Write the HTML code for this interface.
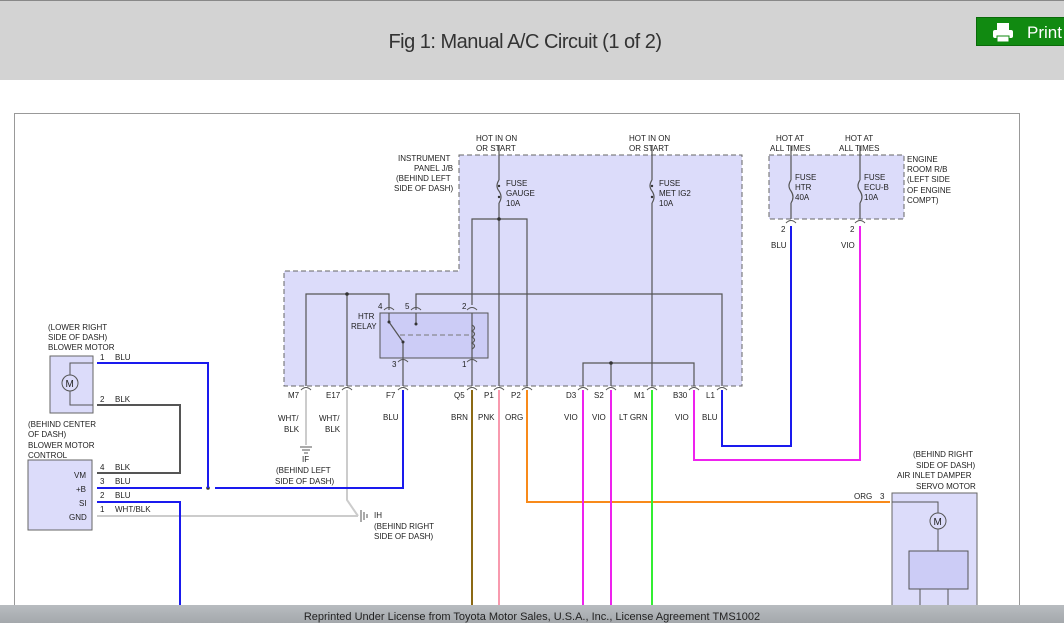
<!DOCTYPE html>
<html><head><meta charset="utf-8"><style>
html,body{margin:0;padding:0;width:1064px;height:623px;overflow:hidden;background:#fff;font-family:"Liberation Sans",sans-serif}
#hdr{position:absolute;left:0;top:0;width:1064px;height:80px;background:#d3d3d3;border-top:1px solid #888;box-sizing:border-box}
#title{position:absolute;left:0;width:1050px;top:30px;text-align:center;font-size:20px;color:#333;letter-spacing:-0.5px}
#print{position:absolute;left:976px;top:16px;width:100px;height:29px;background:#118a11;border:1px solid #0a6a0a;color:#fff;font-size:17px;line-height:29px;padding-left:50px;box-sizing:border-box}
#ftr{position:absolute;left:0;top:605px;width:1064px;height:18px;background:linear-gradient(#b8bcc0,#a4a8ac);font-size:11px;color:#222;text-align:center;line-height:24px}
svg{position:absolute;left:0;top:0}
text{font-family:"Liberation Sans",sans-serif;font-size:8px;fill:#222}
</style></head><body>
<div id="hdr"><div id="title">Fig 1: Manual A/C Circuit (1 of 2)</div>
<div id="print"><svg width="24" height="22" style="left:14px;top:4px"><rect x="6" y="1" width="12" height="7" fill="#fff"/><rect x="2" y="8" width="20" height="8" rx="2" fill="#fff"/><rect x="6" y="14" width="12" height="6" fill="#fff" stroke="#118a11"/></svg>Print</div></div>
<svg width="1064" height="623">
<rect x="14.5" y="113.5" width="1005" height="520" fill="#fff" stroke="#999"/>
<!-- J/B -->
<polygon points="459,155 742,155 742,386 284,386 284,271 459,271" fill="#dcdcfa" stroke="#666" stroke-dasharray="5,3"/>
<rect x="769" y="155" width="135" height="64" fill="#dcdcfa" stroke="#666" stroke-dasharray="5,3"/>
<rect x="380" y="313" width="108" height="45" fill="#ccccf6" stroke="#555"/>
<g stroke="#555" fill="none" stroke-width="1.2">
<path d="M499,146V180M499,203V386M652,146V180M652,203V386"/>
<path d="M499,180q-4,6 0,11q4,6 0,12M652,180q-4,6 0,11q4,6 0,12"/>
<path d="M472,305V219H527V386M306,386V294H389V310M347,294V386M416,310V294H722V386"/>
<path d="M389,313V322L403,342V386M416,313V324M472,313V386M583,386V363H694V386M611,363V386"/>
<path d="M472,325q5,3 0,6q5,3 0,6q5,3 0,6q5,3 0,6" />
<path d="M791,146V180M791,203V219M860,146V180M860,203V219M791,180q-4,6 0,11q4,6 0,12M860,180q-4,6 0,11q4,6 0,12"/>
</g>
<path d="M400,335H470" stroke="#777" stroke-dasharray="5,3"/>
<g fill="#333"><circle cx="499" cy="219" r="1.8"/><circle cx="347" cy="294" r="1.8"/><circle cx="611" cy="363" r="1.8"/><circle cx="389" cy="322" r="1.5"/><circle cx="416" cy="324" r="1.5"/><circle cx="403" cy="342" r="1.5"/><circle cx="208" cy="488" r="1.8"/><circle cx="499" cy="186" r="1.2"/><circle cx="499" cy="197" r="1.2"/><circle cx="652" cy="186" r="1.2"/><circle cx="652" cy="197" r="1.2"/></g>
<!-- connector marks -->
<g stroke="#555" fill="none"><path d="M301,390q5,-5 10,0M342,390q5,-5 10,0M398,390q5,-5 10,0M467,390q5,-5 10,0M494,390q5,-5 10,0M522,390q5,-5 10,0M578,390q5,-5 10,0M606,390q5,-5 10,0M647,390q5,-5 10,0M689,390q5,-5 10,0M717,390q5,-5 10,0M786,223q5,-5 10,0M855,223q5,-5 10,0M384,310q5,-5 10,0M411,310q5,-5 10,0M467,310q5,-5 10,0M398,362q5,-5 10,0M467,362q5,-5 10,0"/></g>
<!-- wires -->
<g fill="none" stroke-width="2">
<path d="M306,390V445" stroke="#ccc"/>
<path d="M347,390V500L358,516" stroke="#ccc"/>
<path d="M97,516H358" stroke="#ccc"/>
<path d="M403,390V488H215M202,488H97" stroke="#1a1aee"/>
<path d="M472,390V605" stroke="#8b6914"/>
<path d="M499,390V605" stroke="#f89aae"/>
<path d="M527,390V502H890" stroke="#f88a1a"/>
<path d="M583,390V605M611,390V605" stroke="#ee22ee"/>
<path d="M652,390V605" stroke="#33ee33"/>
<path d="M694,390V460H860V226" stroke="#ee22ee"/>
<path d="M722,390V446H791V226" stroke="#1a1aee"/>
<path d="M97,363H208V488" stroke="#1a1aee"/>
<path d="M97,502H180V605" stroke="#1a1aee"/>
<path d="M97,405H180V473H97" stroke="#555"/>
</g>
<!-- grounds -->
<g stroke="#555"><path d="M300,447H312M302,450H310M304,453H308"/><path d="M361,510V522M364,512V520M367,514V518"/></g>
<!-- blower motor -->
<rect x="50" y="356" width="43" height="57" fill="#dcdcfa" stroke="#666"/>
<circle cx="70" cy="383" r="8" fill="none" stroke="#555"/><text x="65.5" y="387" style="font-size:10px">M</text>
<path d="M70,375V363H93M70,391V405H93" stroke="#555" fill="none"/>
<rect x="28" y="460" width="64" height="70" fill="#dcdcfa" stroke="#666"/>
<!-- servo -->
<rect x="892" y="493" width="85" height="120" fill="#dcdcfa" stroke="#666"/>
<circle cx="938" cy="521" r="8" fill="none" stroke="#555"/><text x="933.5" y="525" style="font-size:10px">M</text>
<path d="M892,502H938V513M938,529V551M920,589V605M948,589V605" stroke="#555" fill="none"/>
<rect x="909" y="551" width="59" height="38" fill="#ccccf6" stroke="#555"/>
<!-- labels -->
<text x="476" y="141">HOT IN ON</text><text x="476" y="151">OR START</text>
<text x="629" y="141">HOT IN ON</text><text x="629" y="151">OR START</text>
<text x="776" y="141">HOT AT</text><text x="770" y="151">ALL TIMES</text>
<text x="845" y="141">HOT AT</text><text x="839" y="151">ALL TIMES</text>
<text x="398" y="161">INSTRUMENT</text><text x="414" y="171">PANEL J/B</text><text x="396" y="181">(BEHIND LEFT</text><text x="394" y="191">SIDE OF DASH)</text>
<text x="506" y="186">FUSE</text><text x="506" y="196">GAUGE</text><text x="506" y="206">10A</text>
<text x="659" y="186">FUSE</text><text x="659" y="196">MET IG2</text><text x="659" y="206">10A</text>
<text x="795" y="180">FUSE</text><text x="795" y="190">HTR</text><text x="795" y="200">40A</text>
<text x="864" y="180">FUSE</text><text x="864" y="190">ECU-B</text><text x="864" y="200">10A</text>
<text x="907" y="162">ENGINE</text><text x="907" y="172">ROOM R/B</text><text x="907" y="182">(LEFT SIDE</text><text x="907" y="193">OF ENGINE</text><text x="907" y="203">COMPT)</text>
<text x="781" y="232">2</text><text x="850" y="232">2</text><text x="771" y="248">BLU</text><text x="841" y="248">VIO</text>
<text x="378" y="309">4</text><text x="405" y="309">5</text><text x="462" y="309">2</text><text x="392" y="367">3</text><text x="462" y="367">1</text>
<text x="358" y="319">HTR</text><text x="351" y="329">RELAY</text>
<text x="288" y="398">M7</text><text x="326" y="398">E17</text><text x="386" y="398">F7</text><text x="454" y="398">Q5</text><text x="484" y="398">P1</text><text x="511" y="398">P2</text><text x="566" y="398">D3</text><text x="594" y="398">S2</text><text x="634" y="398">M1</text><text x="673" y="398">B30</text><text x="706" y="398">L1</text>
<text x="278" y="421">WHT/</text><text x="284" y="432">BLK</text><text x="319" y="421">WHT/</text><text x="325" y="432">BLK</text><text x="383" y="420">BLU</text>
<text x="451" y="420">BRN</text><text x="478" y="420">PNK</text><text x="505" y="420">ORG</text><text x="564" y="420">VIO</text><text x="592" y="420">VIO</text><text x="619" y="420">LT GRN</text><text x="675" y="420">VIO</text><text x="702" y="420">BLU</text>
<text x="302" y="462">IF</text><text x="276" y="473">(BEHIND LEFT</text><text x="275" y="484">SIDE OF DASH)</text>
<text x="374" y="518">IH</text><text x="374" y="529">(BEHIND RIGHT</text><text x="374" y="539">SIDE OF DASH)</text>
<text x="48" y="330">(LOWER RIGHT</text><text x="48" y="340">SIDE OF DASH)</text><text x="48" y="350">BLOWER MOTOR</text>
<text x="100" y="360">1</text><text x="115" y="360">BLU</text><text x="100" y="402">2</text><text x="115" y="402">BLK</text>
<text x="28" y="427">(BEHIND CENTER</text><text x="28" y="437">OF DASH)</text><text x="28" y="448">BLOWER MOTOR</text><text x="28" y="458">CONTROL</text>
<text x="74" y="478">VM</text><text x="76" y="492">+B</text><text x="79" y="506">SI</text><text x="69" y="520">GND</text>
<text x="100" y="470">4</text><text x="115" y="470">BLK</text><text x="100" y="484">3</text><text x="115" y="484">BLU</text><text x="100" y="498">2</text><text x="115" y="498">BLU</text><text x="100" y="512">1</text><text x="115" y="512">WHT/BLK</text>
<text x="913" y="457">(BEHIND RIGHT</text><text x="916" y="468">SIDE OF DASH)</text><text x="897" y="478">AIR INLET DAMPER</text><text x="916" y="489">SERVO MOTOR</text>
<text x="854" y="499">ORG</text><text x="880" y="499">3</text>
</svg>
<div id="ftr">Reprinted Under License from Toyota Motor Sales, U.S.A., Inc., License Agreement TMS1002</div>
</body></html>
